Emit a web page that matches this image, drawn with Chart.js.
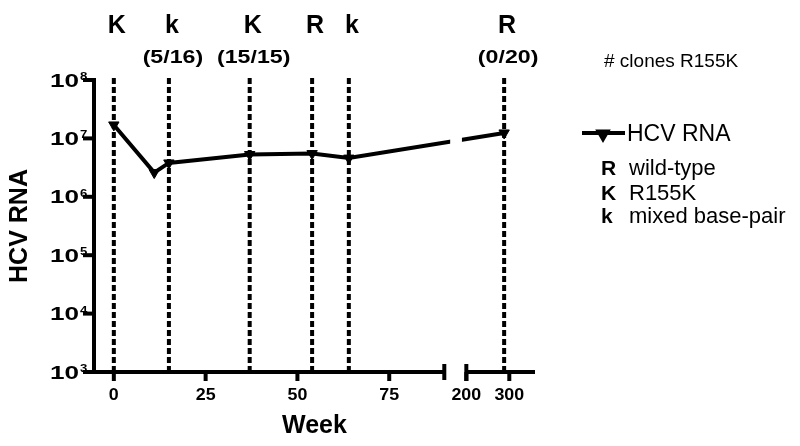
<!DOCTYPE html>
<html>
<head>
<meta charset="utf-8">
<script src="https://cdn.jsdelivr.net/npm/chart.js@4/dist/chart.umd.min.js"></script>
<style>
  html, body { margin: 0; padding: 0; background: #fff; }
</style>
</head>
<body>
<canvas id="chart" width="800" height="446"></canvas>
<script>
// HCV RNA over time (weeks), log scale
var weeks = [0, 11, 15, 37, 54, 64, 288];
var hcvRna = [1.7e7, 2.6e6, 3.8e6, 5.3e6, 5.5e6, 4.6e6, 1.24e7];

// sequencing time points: genotype code and # clones R155K
var seqWeeks = [0, 15, 37, 54, 64, 288];
var seqCodes = ['K', 'k', 'K', 'R', 'k', 'R'];
var cloneCounts = ['', '(5/16)', '(15/15)', '', '', '(0/20)'];

var xTickWeeks = [0, 25, 50, 75, 200, 300];
var yTickExps = [3, 4, 5, 6, 7, 8];

var legendCodes = ['R', 'K', 'k'];
var legendMeanings = ['wild-type', 'R155K', 'mixed base-pair'];

// broken x axis: 0..90 linear, then 200.. compressed
var BREAK_LO = 90, BREAK_HI = 200, GAP = 6, RIGHT_K = 0.117;
function xpos(w) {
  if (w <= BREAK_LO) return w;
  return BREAK_LO + GAP + (w - BREAK_HI) * RIGHT_K;
}

var FONT = '"Liberation Sans", Arial, Helvetica, sans-serif';

function wideText(ctx, txt, x, y, sx, align) {
  // draw text stretched horizontally by sx
  ctx.save();
  ctx.translate(x, y);
  ctx.scale(sx, 1);
  ctx.textAlign = align;
  ctx.fillText(txt, 0, 0);
  ctx.restore();
}

var brokenAxes = {
  id: 'brokenAxes',
  beforeDatasetsDraw: function (chart) {
    var ctx = chart.ctx, xs = chart.scales.x, a = chart.chartArea;
    ctx.save();
    ctx.strokeStyle = '#000';
    ctx.lineWidth = 4;
    ctx.setLineDash([6, 3]);
    seqWeeks.forEach(function (w) {
      var px = xs.getPixelForValue(xpos(w));
      ctx.beginPath();
      ctx.moveTo(px, a.top - 2);
      ctx.lineTo(px, a.bottom);
      ctx.stroke();
    });
    ctx.restore();
  },
  afterDatasetsDraw: function (chart) {
    var ctx = chart.ctx, xs = chart.scales.x, ys = chart.scales.y, a = chart.chartArea;
    ctx.save();

    // gap in the data line at the axis break
    var g0 = xs.getPixelForValue(BREAK_LO + 1.6), g1 = xs.getPixelForValue(BREAK_LO + 4.8);
    ctx.fillStyle = '#fff';
    ctx.fillRect(g0, a.top, g1 - g0, a.bottom - a.top - 12);

    ctx.strokeStyle = '#000';
    ctx.fillStyle = '#000';
    ctx.lineWidth = 4;
    ctx.lineCap = 'butt';

    // y axis
    ctx.beginPath();
    ctx.moveTo(a.left, a.top - 2);
    ctx.lineTo(a.left, a.bottom + 2);
    ctx.stroke();
    yTickExps.forEach(function (e) {
      var py = ys.getPixelForValue(Math.pow(10, e));
      ctx.beginPath();
      ctx.moveTo(a.left - 11, py);
      ctx.lineTo(a.left, py);
      ctx.stroke();
      ctx.textBaseline = 'alphabetic';
      ctx.font = 'bold 18px ' + FONT;
      wideText(ctx, '10', a.left - 15, py + 6.5, 1.45, 'right');
      ctx.font = 'bold 11px ' + FONT;
      wideText(ctx, String(e), a.left - 14, py, 1.2, 'left');
    });

    // x axis, two segments
    var pLo = xs.getPixelForValue(BREAK_LO), pHi = xs.getPixelForValue(BREAK_LO + GAP);
    ctx.beginPath();
    ctx.moveTo(a.left - 2, a.bottom);
    ctx.lineTo(pLo, a.bottom);
    ctx.moveTo(pHi, a.bottom);
    ctx.lineTo(a.right, a.bottom);
    ctx.stroke();
    ctx.beginPath();
    ctx.moveTo(pLo, a.bottom - 8);
    ctx.lineTo(pLo, a.bottom + 8);
    ctx.moveTo(pHi, a.bottom - 8);
    ctx.lineTo(pHi, a.bottom + 9);
    ctx.stroke();
    ctx.font = 'bold 17px ' + FONT;
    ctx.textBaseline = 'alphabetic';
    xTickWeeks.forEach(function (w) {
      var px = xs.getPixelForValue(xpos(w));
      ctx.beginPath();
      ctx.moveTo(px, a.bottom);
      ctx.lineTo(px, a.bottom + 9);
      ctx.stroke();
      wideText(ctx, String(w), px, a.bottom + 28, 1.05, 'center');
    });

    // axis titles
    ctx.font = 'bold 25px ' + FONT;
    ctx.textAlign = 'center';
    ctx.fillText('Week', (a.left + a.right) / 2, a.bottom + 61);
    ctx.save();
    ctx.translate(27, (a.top + a.bottom) / 2);
    ctx.rotate(-Math.PI / 2);
    ctx.fillText('HCV RNA', 0, 0);
    ctx.restore();

    // genotype labels above the dotted lines
    seqWeeks.forEach(function (w, i) {
      var px = xs.getPixelForValue(xpos(w));
      ctx.font = 'bold 25px ' + FONT;
      ctx.textAlign = 'center';
      ctx.fillText(seqCodes[i], px + 3, a.top - 47);
      if (cloneCounts[i]) {
        ctx.font = 'bold 19px ' + FONT;
        wideText(ctx, cloneCounts[i], px + 4, a.top - 17, 1.22, 'center');
      }
    });

    // legend
    ctx.textAlign = 'left';
    ctx.font = '19px ' + FONT;
    ctx.fillText('# clones R155K', 604, 67);

    var ds = chart.data.datasets[0];
    ctx.lineWidth = 4;
    ctx.beginPath();
    ctx.moveTo(582, 133);
    ctx.lineTo(625, 133);
    ctx.stroke();
    Chart.helpers.drawPoint(ctx, { pointStyle: 'triangle', rotation: 180, radius: 5, borderWidth: 1 }, 603, 134);
    ctx.fill();
    ctx.font = '23px ' + FONT;
    ctx.fillText(ds.label, 627, 141);

    legendCodes.forEach(function (c, i) {
      var by = [175, 200, 223][i];
      ctx.font = 'bold 21px ' + FONT;
      ctx.fillText(c, 601, by);
      ctx.font = '22px ' + FONT;
      ctx.fillText(legendMeanings[i], 629, by);
    });

    ctx.restore();
  }
};

new Chart(document.getElementById('chart'), {
  type: 'line',
  data: {
    datasets: [{
      label: 'HCV RNA',
      data: weeks.map(function (w, i) { return { x: xpos(w), y: hcvRna[i] }; }),
      borderColor: '#000',
      backgroundColor: '#000',
      borderWidth: 4,
      pointStyle: 'triangle',
      rotation: 180,
      pointRadius: 6,
      pointHoverRadius: 6,
      pointBorderWidth: 1,
      tension: 0,
      fill: false
    }]
  },
  options: {
    responsive: false,
    animation: false,
    layout: { padding: { left: 94, right: 265, top: 80, bottom: 74 } },
    plugins: { legend: { display: false }, tooltip: { enabled: false } },
    scales: {
      x: { type: 'linear', min: -5.4, max: 114.7, display: false },
      y: { type: 'logarithmic', min: 1e3, max: 1e8, display: false }
    }
  },
  plugins: [brokenAxes]
});
</script>
</body>
</html>
